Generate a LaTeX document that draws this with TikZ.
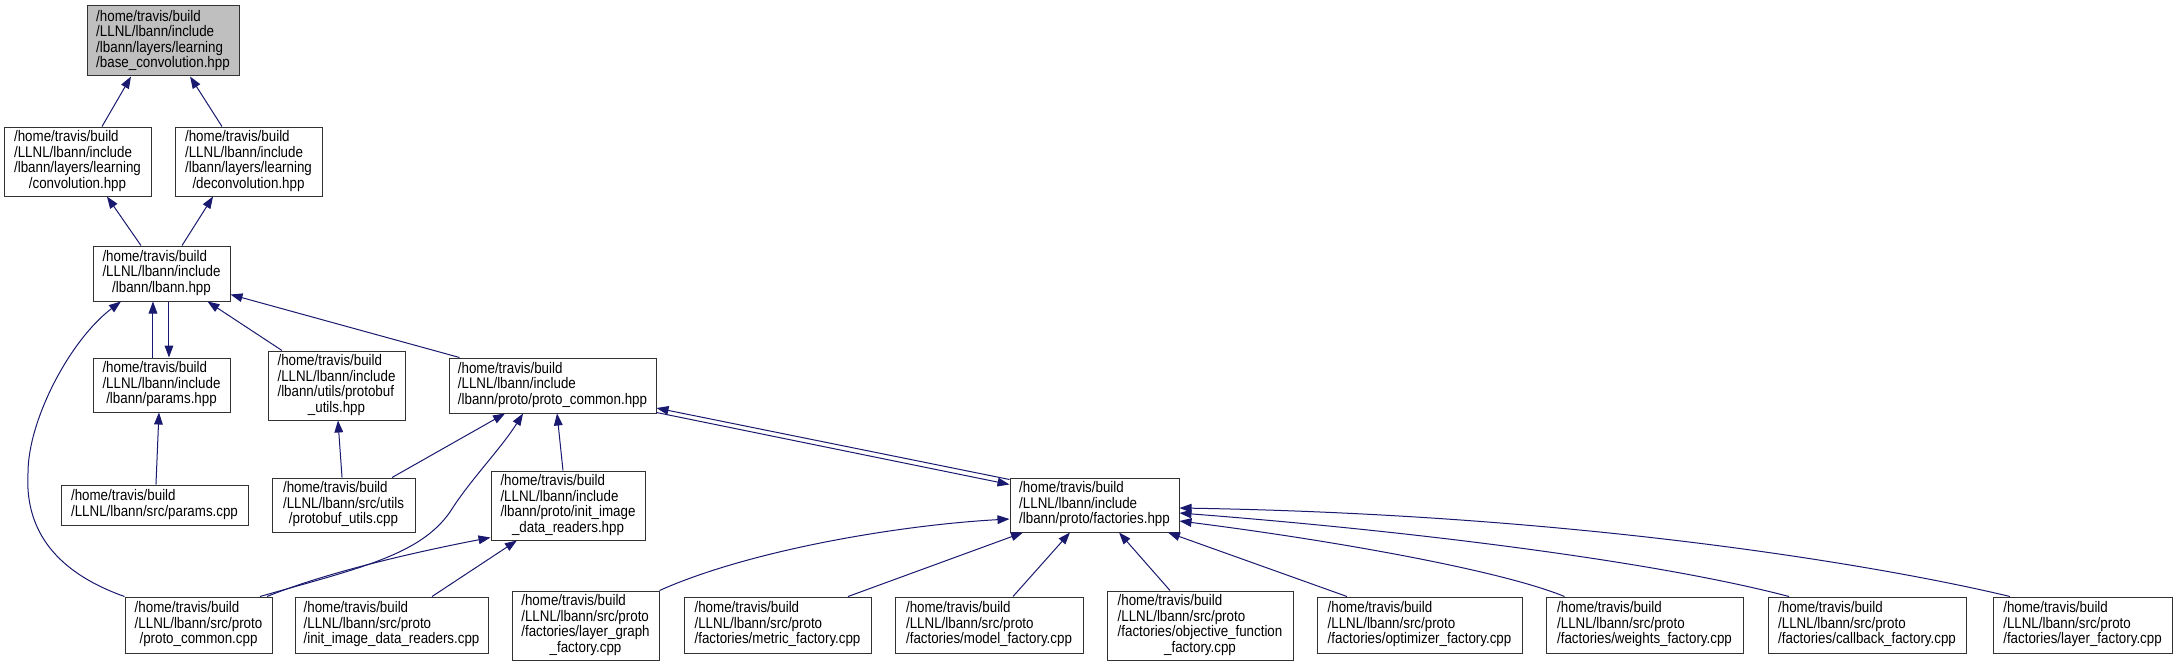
\documentclass[tikz,border=0pt]{standalone}
\usepackage{fontspec}
\setmainfont{Liberation Sans}[FakeStretch=0.87]
\usepackage{xcolor}
\usepackage{tikz}
\usetikzlibrary{arrows.meta}
\definecolor{edgeblue}{RGB}{25,25,112}
\definecolor{curfill}{RGB}{191,191,191}
\definecolor{boxrule}{RGB}{50,50,50}
\newcommand{\flbl}[2]{\begin{tabular}{@{}l@{}}#1\\\multicolumn{1}{@{}c@{}}{#2}\end{tabular}}

\begin{document}
\begin{tikzpicture}[
  x=0.75pt,y=-0.75pt,
  fnode/.style={draw=boxrule,fill=white,line width=0.75pt,inner sep=0pt,
                font=\fontsize{11.5}{11}\selectfont},
  fcur/.style={fnode,fill=curfill},
  ar/.style={-{Triangle[length=9pt,width=6.5pt]},line width=0.75pt,edgeblue},
]
\path[use as bounding box,fill=white] (0,0) rectangle (2177,667);

\node[fcur,minimum width=114pt,minimum height=52.5pt] (base) at (163,41)
  {\flbl{/home/travis/build\\/LLNL/lbann/include\\/lbann/layers/learning}{/base\_convolution.hpp}};
\node[fnode,minimum width=110.25pt,minimum height=51.75pt] (conv) at (77.5,161.5)
  {\flbl{/home/travis/build\\/LLNL/lbann/include\\/lbann/layers/learning}{/convolution.hpp}};
\node[fnode,minimum width=110.25pt,minimum height=51.75pt] (deconv) at (248.5,161.5)
  {\flbl{/home/travis/build\\/LLNL/lbann/include\\/lbann/layers/learning}{/deconvolution.hpp}};
\node[fnode,minimum width=102.75pt,minimum height=41.25pt] (lbann) at (161.5,273.5)
  {\flbl{/home/travis/build\\/LLNL/lbann/include}{/lbann/lbann.hpp}};
\node[fnode,minimum width=102.75pt,minimum height=40.5pt] (params) at (161.5,385)
  {\flbl{/home/travis/build\\/LLNL/lbann/include}{/lbann/params.hpp}};
\node[fnode,minimum width=102.75pt,minimum height=51.75pt] (pbutil) at (336.5,385.5)
  {\flbl{/home/travis/build\\/LLNL/lbann/include\\/lbann/utils/protobuf}{\_utils.hpp}};
\node[fnode,minimum width=155.25pt,minimum height=41.25pt] (pchpp) at (552.5,385.5)
  {\flbl{/home/travis/build\\/LLNL/lbann/include}{/lbann/proto/proto\_common.hpp}};
\node[fnode,minimum width=140.25pt,minimum height=30pt] (paramscpp) at (154.5,505)
  {\flbl{/home/travis/build}{/LLNL/lbann/src/params.cpp}};
\node[fnode,minimum width=107.25pt,minimum height=40.5pt] (pbutilcpp) at (343.5,505)
  {\flbl{/home/travis/build\\/LLNL/lbann/src/utils}{/protobuf\_utils.cpp}};
\node[fnode,minimum width=115.5pt,minimum height=51.75pt] (initimg) at (568,505.5)
  {\flbl{/home/travis/build\\/LLNL/lbann/include\\/lbann/proto/init\_image}{\_data\_readers.hpp}};
\node[fnode,minimum width=126.75pt,minimum height=40.5pt] (fact) at (1094.5,505)
  {\flbl{/home/travis/build\\/LLNL/lbann/include}{/lbann/proto/factories.hpp}};
\node[fnode,minimum width=110.25pt,minimum height=42pt] (pccpp) at (198.5,625)
  {\flbl{/home/travis/build\\/LLNL/lbann/src/proto}{/proto\_common.cpp}};
\node[fnode,minimum width=144.75pt,minimum height=42pt] (initimgcpp) at (391.5,625)
  {\flbl{/home/travis/build\\/LLNL/lbann/src/proto}{/init\_image\_data\_readers.cpp}};
\node[fnode,minimum width=110.25pt,minimum height=51.75pt] (lgraph) at (585.5,625.5)
  {\flbl{/home/travis/build\\/LLNL/lbann/src/proto\\/factories/layer\_graph}{\_factory.cpp}};
\node[fnode,minimum width=140.25pt,minimum height=42pt] (metric) at (777.5,625)
  {\flbl{/home/travis/build\\/LLNL/lbann/src/proto}{/factories/metric\_factory.cpp}};
\node[fnode,minimum width=141pt,minimum height=42pt] (model) at (989,625)
  {\flbl{/home/travis/build\\/LLNL/lbann/src/proto}{/factories/model\_factory.cpp}};
\node[fnode,minimum width=139.5pt,minimum height=51.75pt] (objfn) at (1200,625.5)
  {\flbl{/home/travis/build\\/LLNL/lbann/src/proto\\/factories/objective\_function}{\_factory.cpp}};
\node[fnode,minimum width=153.75pt,minimum height=42pt] (optim) at (1419.5,625)
  {\flbl{/home/travis/build\\/LLNL/lbann/src/proto}{/factories/optimizer\_factory.cpp}};
\node[fnode,minimum width=147.75pt,minimum height=42pt] (weights) at (1644.5,625)
  {\flbl{/home/travis/build\\/LLNL/lbann/src/proto}{/factories/weights\_factory.cpp}};
\node[fnode,minimum width=148.5pt,minimum height=42pt] (callback) at (1867,625)
  {\flbl{/home/travis/build\\/LLNL/lbann/src/proto}{/factories/callback\_factory.cpp}};
\node[fnode,minimum width=134.25pt,minimum height=42pt] (layerf) at (2082.5,625)
  {\flbl{/home/travis/build\\/LLNL/lbann/src/proto}{/factories/layer\_factory.cpp}};

\draw[ar] ([xshift=18.4pt]conv.north) -- ([xshift=-24pt]base.south);
\draw[ar] ([xshift=-19.9pt]deconv.north) -- ([xshift=20.3pt]base.south);
\draw[ar] ([xshift=-15.4pt]lbann.north) -- ([xshift=22.1pt]conv.south);
\draw[ar] ([xshift=15.4pt]lbann.north) -- ([xshift=-26.6pt]deconv.south);
\draw[ar] ([xshift=-6.4pt]params.north) -- ([xshift=-6.4pt]lbann.south);
\draw[ar] ([xshift=5.6pt]lbann.south) -- ([xshift=5.6pt]params.north);
\draw[ar] ([xshift=-40.9pt]pbutil.north) -- ([xshift=34.5pt]lbann.south);
\draw[ar] ([xshift=8.25pt]pchpp.north west) -- ([yshift=5.25pt]lbann.south east);
\draw[ar] (pccpp.north west) .. controls (50,570) and (25,525) .. (28,473)
  .. controls (28,420) and (70,340) .. ([xshift=-30.4pt]lbann.south);
\draw[ar] ([xshift=1.1pt]paramscpp.north) -- ([xshift=-1.9pt]params.south);
\draw[ar] ([xshift=-1.1pt]pbutilcpp.north) -- ([xshift=1.1pt]pbutil.south);
\draw[ar] ([xshift=36.4pt]pbutilcpp.north) -- ([xshift=-35.6pt]pchpp.south);
\draw[ar] ([xshift=46.1pt]pccpp.north) .. controls (360,568) and (420,555) .. (450,512)
  .. controls (470,480) and (500,450) .. ([xshift=-22.1pt]pchpp.south);
\draw[ar] ([xshift=51.4pt]pccpp.north) .. controls (320,575) and (400,555)
  .. ([yshift=2.25pt]initimg.south west);
\draw[ar] ([xshift=30.4pt]initimgcpp.north) -- ([xshift=-38.3pt]initimg.south);
\draw[ar] ([xshift=-3.75pt]initimg.north) -- ([xshift=3.4pt]pchpp.south);
\draw[ar] ([yshift=-1.5pt]fact.north west) -- ([yshift=4.1pt]pchpp.south east);
\draw[ar] ([yshift=0.75pt]pchpp.south east) -- ([yshift=-5.25pt]fact.north west);

\draw[ar] (lgraph.north east) .. controls (750,550) and (900,525) .. ([yshift=-10.5pt]fact.west);
\draw[ar] ([xshift=52.9pt]metric.north) -- ([xshift=-53.6pt]fact.south);
\draw[ar] ([xshift=18pt]model.north) -- ([xshift=-18.4pt]fact.south);
\draw[ar] ([xshift=-22.5pt]objfn.north) -- ([xshift=18.4pt]fact.south);
\draw[ar] ([xshift=-54.4pt]optim.north) -- ([xshift=55.1pt]fact.south);
\draw[ar] ([xshift=-60pt]weights.north) .. controls (1500,570) and (1330,540)
  .. ([yshift=-12pt]fact.east);
\draw[ar] ([xshift=-58.5pt]callback.north) .. controls (1650,560) and (1400,530)
  .. ([yshift=-6pt]fact.east);
\draw[ar] ([xshift=-54.4pt]layerf.north) .. controls (1900,570) and (1600,515)
  .. ([yshift=-2.25pt]fact.east);
\end{tikzpicture}
\end{document}
